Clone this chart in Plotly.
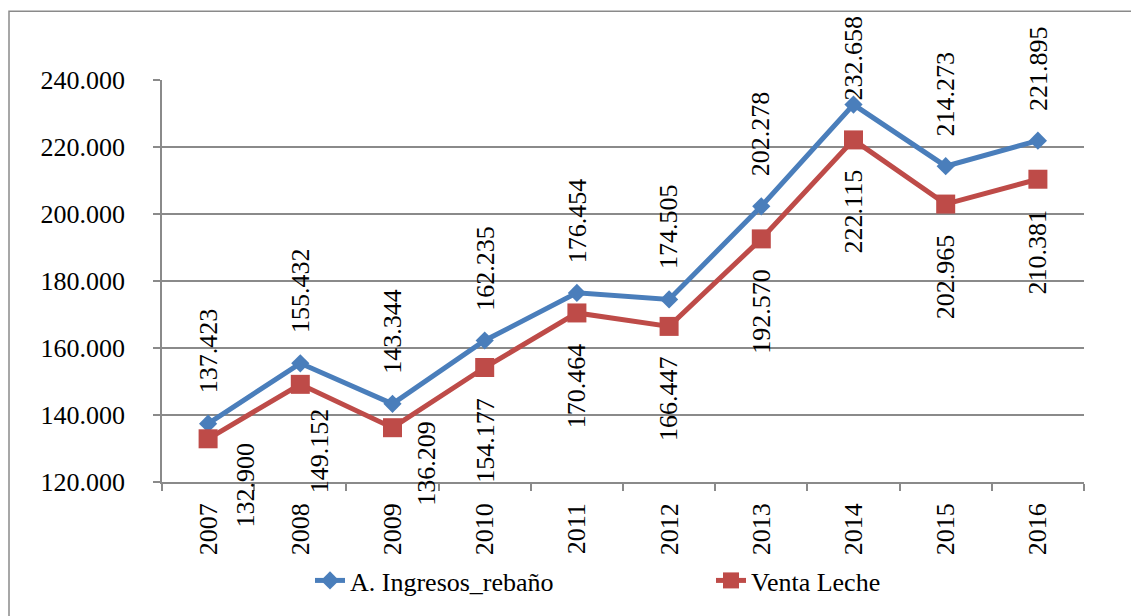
import plotly.graph_objects as go

# Yearly values (thousands separated with ".")
years = ["2007", "2008", "2009", "2010", "2011", "2012", "2013", "2014", "2015", "2016"]
ingresos_rebano = [137423, 155432, 143344, 162235, 176454, 174505, 202278, 232658, 214273, 221895]
venta_leche = [132900, 149152, 136209, 154177, 170464, 166447, 192570, 222115, 202965, 210381]

BLUE = "#4A7EBB"
RED = "#BE4B48"
GRID = "#8A8A8A"
FONT = "Liberation Serif"
FS = 26

# label nudges (pixels) for the value labels
blue_shift_y = [28, 28, 28, 28, 28, 28, 28, 2, 28, 28]
red_shift_x = [37, 20, 34, 0, 0, 0, 0, 0, 0, 0]
red_shift_y = [-2, -22, 9, -28, -28, -28, -28, -28, -28, -28]

W, H = 1131, 616
ML, MR, MT, MB = 162, 47, 80, 132
PW = W - ML - MR
PH = H - MT - MB


def fmt(v):
    return f"{v:,}".replace(",", ".")


fig = go.Figure()
fig.add_trace(go.Scatter(
    x=years, y=ingresos_rebano, name="A. Ingresos_rebaño", mode="lines+markers",
    line=dict(color=BLUE, width=5),
    marker=dict(symbol="diamond", size=14, color=BLUE),
    legend="legend", cliponaxis=False,
))
fig.add_trace(go.Scatter(
    x=years, y=venta_leche, name="Venta Leche", mode="lines+markers",
    line=dict(color=RED, width=5),
    marker=dict(symbol="square", size=19, color=RED),
    legend="legend2", cliponaxis=False,
))

annotations = []
for i, v in enumerate(ingresos_rebano):
    annotations.append(dict(
        x=i, y=v, xref="x", yref="y", text=fmt(v), showarrow=False,
        textangle=-90, xanchor="center", yanchor="bottom",
        yshift=blue_shift_y[i],
        font=dict(family=FONT, size=FS, color="black"),
    ))
for i, v in enumerate(venta_leche):
    annotations.append(dict(
        x=i, y=v, xref="x", yref="y", text=fmt(v), showarrow=False,
        textangle=-90, xanchor="center", yanchor="top",
        xshift=red_shift_x[i], yshift=red_shift_y[i],
        font=dict(family=FONT, size=FS, color="black"),
    ))


def px_x(p):
    return (p - ML) / PW


def px_y(p):
    return (H - MB - p) / PH


fig.update_layout(
    width=W, height=H, autosize=False,
    margin=dict(l=ML, r=MR, t=MT, b=MB, pad=0),
    paper_bgcolor="white", plot_bgcolor="white",
    separators=",.",
    font=dict(family=FONT, size=FS, color="black"),
    showlegend=True,
    legend=dict(
        orientation="h", x=px_x(310), y=px_y(583), xanchor="left", yanchor="middle",
        font=dict(family=FONT, size=FS, color="black"), bgcolor="rgba(0,0,0,0)",
    ),
    legend2=dict(
        orientation="h", x=px_x(711), y=px_y(583), xanchor="left", yanchor="middle",
        font=dict(family=FONT, size=FS, color="black"), bgcolor="rgba(0,0,0,0)",
    ),
    shapes=[dict(
        type="rect", xref="paper", yref="paper",
        x0=px_x(9), x1=px_x(1140), y0=px_y(625), y1=px_y(11),
        line=dict(color=GRID, width=1.5), fillcolor="rgba(0,0,0,0)", layer="below",
    )],
)
for a in annotations:
    fig.add_annotation(**a)

fig.update_xaxes(
    type="category", range=[-0.5, 9.5],
    showline=True, linecolor=GRID, linewidth=1.5,
    ticks="outside", tickson="boundaries", ticklen=7, tickcolor=GRID, tickwidth=1.5,
    tickangle=-90, ticklabelstandoff=9,
    showgrid=False, zeroline=False,
    tickfont=dict(family=FONT, size=FS, color="black"),
)
fig.update_yaxes(
    range=[120000, 240000], dtick=20000, tick0=120000,
    tickformat=",.0f",
    showline=True, linecolor=GRID, linewidth=1.5,
    ticks="outside", ticklen=7, tickcolor=GRID, tickwidth=1.5,
    ticklabelstandoff=23,
    showgrid=True, gridcolor=GRID, gridwidth=1.5, zeroline=False,
    tickfont=dict(family=FONT, size=FS, color="black"),
)

fig.write_html("out.html")
